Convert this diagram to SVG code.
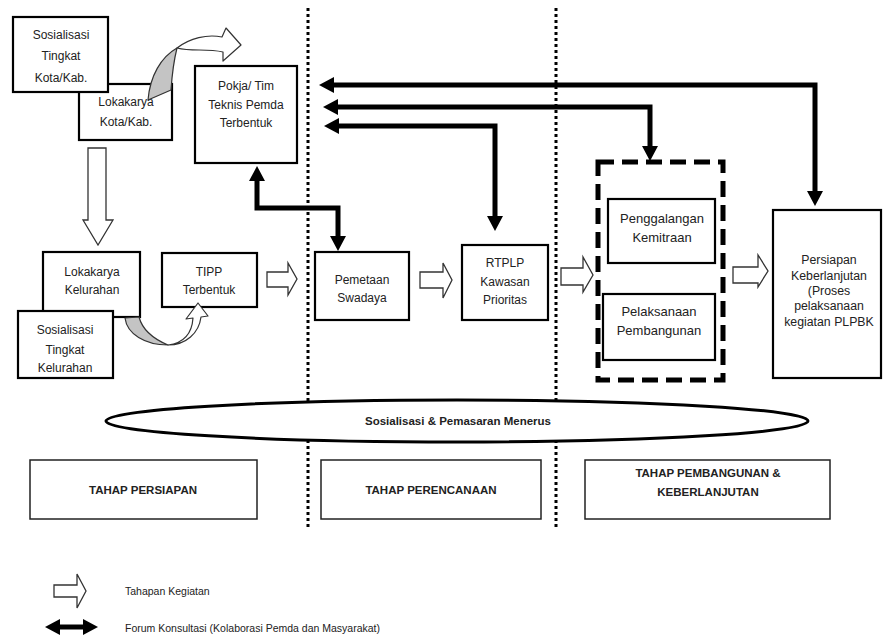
<svg xmlns="http://www.w3.org/2000/svg" width="885" height="641" viewBox="0 0 885 641">
<style>
.box{fill:#fff;stroke:#000;stroke-width:2.2}
.sbox{fill:#fff;stroke:#222;stroke-width:1.5}
.t{font-family:"Liberation Sans",Arial,sans-serif;font-size:12px;fill:#222;text-anchor:middle}
.t13{font-size:13px}
.t125{font-size:12.3px}
.b{font-family:"Liberation Sans",Arial,sans-serif;font-size:11.5px;font-weight:bold;fill:#222;text-anchor:middle}
.lg{font-family:"Liberation Sans",Arial,sans-serif;font-size:10.5px;fill:#222}
.hollow{fill:#fff;stroke:#333;stroke-width:1.3;stroke-linejoin:miter}
.thick{fill:none;stroke:#000;stroke-width:5;marker-start:url(#ah);marker-end:url(#ah)}
.dot{stroke:#000;stroke-width:3;stroke-dasharray:3 3}
.curve{stroke:#333;stroke-width:1.2;stroke-linejoin:round}
</style>
<defs>
<marker id="ah" markerUnits="userSpaceOnUse" markerWidth="16" markerHeight="16" refX="1" refY="8" orient="auto-start-reverse">
<path d="M0,0 L15,8 L0,16 Z" fill="#000"/>
</marker>
</defs>
<rect width="885" height="641" fill="#fff"/>

<g id="separators">
<line class="dot" x1="308" y1="8" x2="308" y2="527"/>
<line class="dot" x1="556" y1="8" x2="556" y2="527"/>
</g>

<g id="lokakarya-kota"><rect class="box" x="79" y="84" width="93" height="56"/>
<text class="t" x="126" y="106">Lokakarya</text><text class="t" x="126" y="126">Kota/Kab.</text></g>
<g id="sosialisasi-kota"><rect class="box" x="13" y="17" width="95" height="75"/>
<text class="t" x="61" y="39">Sosialisasi</text><text class="t" x="61" y="60">Tingkat</text><text class="t" x="61" y="82">Kota/Kab.</text></g>

<g id="pokja"><rect class="box" x="195" y="66" width="102" height="97"/>
<text class="t" x="246" y="90">Pokja/ Tim</text><text class="t" x="246" y="109">Teknis Pemda</text><text class="t" x="246" y="127">Terbentuk</text></g>

<g id="lokakarya-kel"><rect class="box" x="43" y="252" width="97" height="65"/>
<text class="t" x="92" y="276">Lokakarya</text><text class="t" x="92" y="294">Kelurahan</text></g>
<g id="sosialisasi-kel"><rect class="box" x="18" y="311" width="95" height="67"/>
<text class="t" x="65" y="334">Sosialisasi</text><text class="t" x="65" y="354">Tingkat</text><text class="t" x="65" y="372">Kelurahan</text></g>

<g id="tipp"><rect class="box" x="162" y="253" width="95" height="54"/>
<text class="t" x="209" y="276">TIPP</text><text class="t" x="209" y="294">Terbentuk</text></g>

<g id="pemetaan"><rect class="box" x="315" y="252" width="94" height="68"/>
<text class="t" x="362" y="284">Pemetaan</text><text class="t" x="362" y="302">Swadaya</text></g>

<g id="rtplp"><rect class="box" x="462" y="245" width="86" height="75"/>
<text class="t" x="505" y="267">RTPLP</text><text class="t" x="505" y="286">Kawasan</text><text class="t" x="505" y="304">Prioritas</text></g>

<g id="pembangunan-group"><rect x="598" y="162" width="125" height="218" fill="none" stroke="#000" stroke-width="5" stroke-dasharray="16 8"/></g>
<g id="penggalangan"><rect class="box" x="608" y="199" width="107" height="64"/>
<text class="t t13" x="662" y="223">Penggalangan</text><text class="t t13" x="662" y="242">Kemitraan</text></g>
<g id="pelaksanaan"><rect class="box" x="603" y="294" width="112" height="66"/>
<text class="t t13" x="659" y="316">Pelaksanaan</text><text class="t t13" x="659" y="335">Pembangunan</text></g>

<g id="persiapan"><rect class="box" x="773" y="210" width="108" height="168"/>
<text class="t t125" x="829" y="264">Persiapan</text><text class="t t125" x="829" y="280">Keberlanjutan</text><text class="t t125" x="829" y="295">(Proses</text><text class="t t125" x="829" y="310">pelaksanaan</text><text class="t t125" x="829" y="326">kegiatan PLPBK</text></g>

<g id="sosialisasi-menerus"><ellipse cx="457" cy="421" rx="351" ry="21" fill="#fff" stroke="#000" stroke-width="3"/>
<text class="b" x="458" y="425">Sosialisasi &amp; Pemasaran Menerus</text></g>

<g id="tahap-persiapan"><rect class="sbox" x="30" y="460" width="227" height="59"/><text class="b" x="143" y="494">TAHAP PERSIAPAN</text></g>
<g id="tahap-perencanaan"><rect class="sbox" x="321" y="460" width="220" height="59"/><text class="b" x="431" y="494">TAHAP PERENCANAAN</text></g>
<g id="tahap-pembangunan"><rect class="sbox" x="585" y="460" width="245" height="59"/><text class="b" x="708" y="477">TAHAP PEMBANGUNAN &amp;</text><text class="b" x="708" y="496">KEBERLANJUTAN</text></g>

<g id="connectors">
<path class="curve" fill="#fff" d="M177,48 C190,38 207,34 222,37 L226,28 L241,45 L223,61 L223,52 C206,48 192,52 177,48 Z"/>
<path class="curve" fill="#c4c4c4" d="M148,100 C150,76 161,57 177,48 C174,60 172,75 171,90 Z"/>
<path class="curve" fill="#fff" d="M168,345 C184,343 192,333 193,318 L186,319 L198,303 L208,316 L201,317 C199,333 186,345 168,345 Z"/>
<path class="curve" fill="#c4c4c4" d="M125,318 C127,334 145,345 168,345 C156,340 143,332 139,317 Z"/>
<path class="hollow" d="M88,148 L106,148 L106,220 L113,220 L98,245 L83,220 L88,220 Z"/>
<path class="hollow" d="M267,272 L288,272 L288,263 L297,279 L288,295 L288,287 L267,287 Z"/>
<path class="hollow" d="M420,272 L443,272 L443,263 L452,280 L443,298 L443,288 L420,288 Z"/>
<path class="hollow" d="M561,268 L583,268 L583,257 L593,275 L583,292 L583,285 L561,285 Z"/>
<path class="hollow" d="M733,267 L758,267 L758,255 L768,271 L758,287 L758,283 L733,283 Z"/>
<path class="thick" d="M333,85 L815,85 L815,192"/>
<path class="thick" d="M337,107 L650,107 L650,147"/>
<path class="thick" d="M338,126 L495,126 L495,217"/>
<path class="thick" d="M257,180 L257,208 L338,208 L338,237"/>
</g>

<g id="legend">
<path class="hollow" d="M54,585 L77,585 L77,574 L86,591 L77,608 L77,597 L54,597 Z"/>
<text class="lg" x="125" y="595">Tahapan Kegiatan</text>
<path class="thick" d="M59,627 L84,627"/>
<text class="lg" x="125" y="632">Forum Konsultasi (Kolaborasi Pemda dan Masyarakat)</text>
</g>
</svg>
